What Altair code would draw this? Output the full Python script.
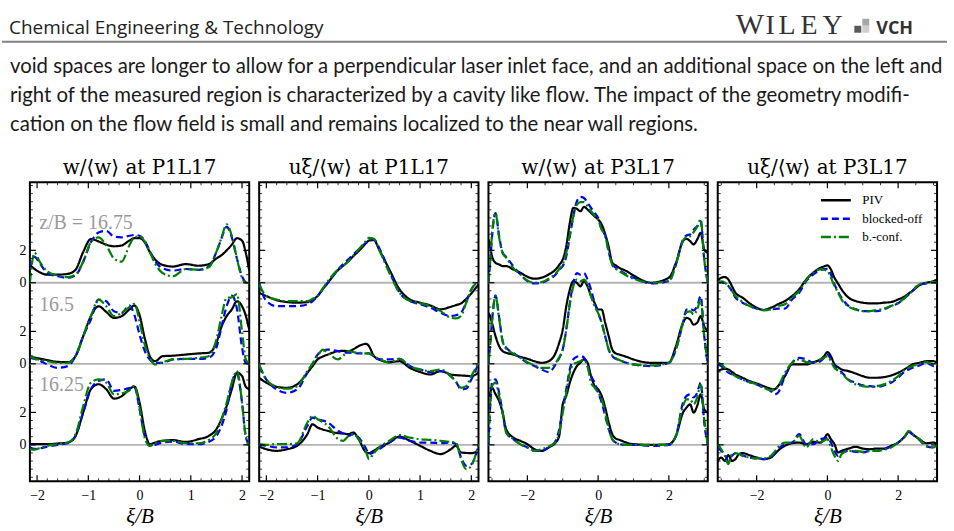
import altair as alt
import pandas as pd

SERIES = ["PIV", "blocked-off", "b.-conf."]
COLORS = ["#000000", "#0000ff", "#008000"]
DASHES = [[1, 0], [7, 4], [10, 3, 2, 3]]
STACK_OFFSETS = [10, 5, 0]
STACK_LABELS = ["z/B = 16.75", "16.5", "16.25"]
Y_MAJOR = [0, 2, 5, 7, 10, 12]

# ---------------- panel 1: w/<w> at P1L17 ----------------
X_P1 = [-2.14, -2.05, -1.95, -1.8, -1.6, -1.4, -1.25, -1.1, -0.95, -0.8, -0.65, -0.5, -0.35, -0.2, -0.1, 0.0,
        0.1, 0.2, 0.3, 0.45, 0.65, 0.9, 1.15, 1.35, 1.5, 1.6, 1.7, 1.8, 1.9, 2.0, 2.07, 2.14]
P1_TOP_PIV = [1.1, 0.85, 0.65, 0.5, 0.5, 0.55, 0.8, 1.9, 2.7, 2.55, 2.35, 2.25, 2.3, 2.6, 2.75, 2.75,
              2.5, 1.9, 1.45, 1.1, 1.0, 1.15, 1.05, 1.15, 1.5, 1.7, 2.0, 2.35, 2.75, 2.6, 1.9, 0.75]
P1_TOP_BO = [0.9, 1.6, 1.2, 0.6, 0.4, 0.3, 0.45, 1.3, 2.5, 3.1, 3.2, 2.85, 2.8, 2.9, 2.95, 2.9,
             2.6, 1.95, 1.35, 0.9, 0.75, 0.85, 0.8, 1.0, 1.9, 2.75, 3.45, 2.8, 1.5, 0.4, 0.05, 0.0]
P1_TOP_BC = [0.0, 1.85, 1.3, 0.7, 0.45, 0.35, 0.5, 1.3, 2.5, 2.8, 2.3, 1.5, 1.3, 2.3, 2.8, 2.85,
             2.55, 1.9, 1.2, 0.6, 0.4, 0.85, 0.8, 0.95, 1.9, 2.8, 3.6, 2.9, 1.5, 0.3, 0.0, 0.0]
P1_MID_PIV = [0.43, 0.38, 0.32, 0.23, 0.12, 0.1, 0.47, 1.7, 2.94, 3.55, 3.2, 2.83, 2.94, 3.35, 3.6, 3.0,
              1.6, 0.47, 0.16, 0.47, 0.5, 0.57, 0.64, 0.68, 1.3, 2.3, 2.94, 3.35, 3.86, 3.55, 3.0, 2.1]
P1_MID_BO = [0.37, 0.3, 0.2, -0.04, -0.25, -0.14, 0.47, 1.7, 2.73, 3.96, 3.86, 3.24, 3.14, 3.6, 3.0, 1.8,
             0.8, 0.27, 0.06, 0.06, 0.27, 0.3, 0.3, 0.37, 1.0, 2.3, 3.55, 4.2, 3.4, 1.0, 0.06, 0.0]
P1_MID_BC = [0.47, 0.32, 0.25, 0.16, 0.06, 0.06, 0.47, 1.7, 2.94, 3.96, 3.55, 2.94, 3.14, 3.5, 3.7, 2.6,
             1.2, 0.37, -0.04, 0.1, 0.27, 0.3, 0.37, 0.47, 1.5, 2.94, 4.07, 4.1, 4.3, 2.0, 0.3, 0.0]
P1_BOT_PIV = [0.04, 0.04, 0.04, 0.04, 0.08, 0.14, 0.55, 2.0, 3.43, 3.74, 3.43, 2.85, 3.0, 3.43, 3.6, 2.6,
              0.9, 0.04, 0.14, 0.25, 0.29, 0.18, 0.35, 0.55, 0.97, 1.6, 2.4, 3.43, 4.45, 4.25, 3.6, 3.43]
P1_BOT_BO = [-0.16, -0.25, -0.22, -0.12, 0.0, 0.1, 0.55, 2.0, 3.43, 3.94, 4.04, 3.33, 3.39, 3.5, 3.55, 2.2,
             0.55, -0.06, 0.0, 0.14, 0.2, 0.04, 0.04, 0.18, 0.55, 1.17, 2.2, 3.84, 4.4, 2.6, 0.55, 0.0]
P1_BOT_BC = [-0.27, -0.3, -0.2, -0.06, 0.04, 0.14, 0.65, 2.4, 3.84, 4.04, 3.84, 3.12, 3.18, 3.35, 3.65, 2.3,
             0.45, -0.06, 0.1, 0.25, 0.25, 0.1, 0.1, 0.3, 0.76, 1.58, 2.6, 3.84, 4.55, 2.6, 0.55, -0.06]

# ---------------- panel 2: u_xi/<w> at P1L17 ----------------
X_P2 = [-2.14, -2.0, -1.8, -1.6, -1.4, -1.2, -1.1, -1.0, -0.9, -0.8, -0.6, -0.5, -0.4, -0.3, -0.2, -0.05,
        0.0, 0.1, 0.2, 0.4, 0.6, 0.8, 1.0, 1.2, 1.4, 1.6, 1.7, 1.8, 1.9, 2.0, 2.14]
P2_TOP_PIV = [-0.62, -0.82, -1.07, -1.19, -1.23, -1.19, -1.05, -0.82, -0.4, 0.0, 0.78, 1.05, 1.33, 1.65, 1.95,
              2.45, 2.6, 2.63, 2.05, 0.82, -0.41, -1.03, -1.23, -1.4, -1.64, -1.48, -1.38, -1.27, -1.0, -0.66, -0.1]
P2_TOP_BO = [0.0, -1.13, -1.44, -1.44, -1.44, -1.33, -1.15, -0.82, -0.4, 0.0, 0.82, 1.15, 1.44, 1.75, 2.05,
             2.5, 2.63, 2.67, 2.16, 0.72, -0.62, -1.13, -1.33, -1.54, -1.85, -2.05, -2.0, -1.85, -1.2, -0.41, 0.0]
P2_TOP_BC = [-0.1, -0.82, -1.03, -1.13, -1.13, -1.13, -1.0, -0.82, -0.35, 0.1, 0.82, 1.05, 1.33, 1.7, 2.05,
             2.6, 2.77, 2.71, 2.05, 0.62, -0.62, -1.13, -1.27, -1.44, -1.75, -2.16, -2.2, -2.05, -1.23, -0.41, 0.04]
P2_MID_PIV = [-0.86, -1.17, -1.42, -1.48, -1.27, -0.55, -0.15, 0.27, 0.45, 0.57, 0.78, 0.8, 0.78, 0.9, 1.09,
              1.23, 1.1, 0.47, 0.27, 0.1, 0.16, -0.25, -0.51, -0.66, -0.45, -0.66, -0.7, -0.72, -0.74, -0.76, -0.55]
P2_MID_BO = [-0.14, -0.97, -1.58, -1.79, -1.58, -0.55, 0.0, 0.57, 0.8, 0.88, 0.78, 0.72, 0.68, 0.66, 0.64,
             0.64, 0.64, 0.45, 0.27, 0.27, 0.31, -0.14, -0.35, -0.51, -0.45, -0.76, -1.1, -1.58, -1.54, -0.97, 0.0]
P2_MID_BC = [-0.04, -0.97, -1.42, -1.54, -1.38, -0.45, 0.0, 0.47, 0.88, 0.68, 0.27, 0.5, 0.78, 0.72, 0.68,
             0.64, 0.64, 0.45, 0.31, 0.06, 0.31, -0.14, -0.35, -0.45, -0.35, -0.76, -1.1, -1.48, -1.38, -0.76, 0.06]
P2_BOT_PIV = [-0.1, -0.27, -0.37, -0.27, -0.06, 0.66, 1.27, 1.07, 0.95, 0.86, 0.72, 0.7, 0.66, 0.76, 0.35,
              -0.47, -0.51, -0.35, -0.16, 0.14, 0.51, 0.25, -0.06, -0.37, -0.57, -0.27, -0.06, -0.47, -0.5, -0.51, -0.37]
P2_BOT_BO = [0.0, -0.06, -0.16, -0.16, 0.04, 1.17, 1.68, 1.58, 1.5, 1.38, 0.86, 0.7, 0.55, 0.66, 0.45,
             -0.27, -0.57, -0.45, -0.27, 0.14, 0.45, 0.25, 0.14, 0.14, 0.1, 0.14, 0.04, -0.78, -1.29, -1.19, -0.06]
P2_BOT_BC = [0.04, 0.0, 0.04, 0.04, 0.1, 1.38, 1.79, 1.58, 1.4, 1.17, 0.35, 0.25, 0.55, 0.66, 0.35,
             -0.47, -0.88, -0.5, -0.16, 0.25, 0.6, 0.45, 0.35, 0.31, 0.25, 0.18, 0.14, -0.88, -1.5, -1.29, 0.04]

# ---------------- panel 3: w/<w> at P3L17 ----------------
X_P3 = [-3.1, -3.05, -3.0, -2.9, -2.8, -2.7, -2.6, -2.4, -2.2, -2.0,
        -1.8, -1.6, -1.4, -1.2, -1.1, -1.0, -0.9, -0.8, -0.7, -0.6,
        -0.5, -0.4, -0.3, -0.2, -0.1, 0.0, 0.1, 0.2, 0.3, 0.4,
        0.5, 0.6, 0.8, 1.0, 1.5, 2.0, 2.2, 2.4, 2.5, 2.6,
        2.7, 2.8, 2.9, 3.0, 3.1]
P3_TOP_PIV = [2.67, 2.2, 1.64, 1.23, 1.13, 1.03, 1.03, 0.82, 0.62, 0.37,
              0.25, 0.31, 0.51, 0.82, 1.1, 1.44, 2.26, 3.7, 4.62, 4.56,
              4.41, 4.68, 4.52, 4.31, 4.1, 3.9, 3.6, 3.0, 2.2, 1.23,
              1.07, 0.92, 0.72, 0.45, 0.0, 0.31, 1.23, 2.57, 2.71, 2.57,
              2.36, 2.67, 3.08, 2.05, 1.85]
P3_TOP_BO = [0.0, 1.3, 2.8, 4.3, 2.9, 1.85, 1.6, 1.03, 0.51, 0.1,
             -0.04, 0.0, 0.2, 0.51, 0.8, 1.03, 1.64, 2.87, 4.1, 5.03,
             5.3, 5.23, 4.93, 4.62, 4.31, 4.0, 3.28, 2.9, 1.9, 1.15,
             0.92, 0.78, 0.51, 0.31, -0.04, 0.1, 1.13, 2.67, 2.92, 2.98,
             3.28, 3.49, 3.8, 1.44, 0.0]
P3_TOP_BC = [0.0, 1.4, 3.0, 4.3, 2.8, 1.85, 1.55, 0.92, 0.51, 0.14,
             0.0, 0.04, 0.25, 0.57, 0.85, 1.13, 1.85, 2.98, 4.1, 4.83,
             4.97, 4.97, 4.72, 4.41, 4.15, 3.9, 3.28, 2.9, 1.9, 1.1,
             0.86, 0.72, 0.45, 0.25, 0.0, 0.1, 1.13, 2.57, 2.83, 2.87,
             3.12, 3.45, 3.9, 1.44, 0.0]
P3_MID_PIV = [3.14, 2.9, 2.53, 1.7, 1.09, 0.78, 0.68, 0.57, 0.43, 0.31,
              0.16, 0.06, 0.16, 0.68, 1.3, 2.11, 3.55, 4.58, 5.1, 4.99,
              4.78, 5.1, 4.78, 4.17, 3.76, 3.35, 3.35, 2.53, 1.7, 0.88,
              0.64, 0.57, 0.43, 0.27, 0.06, 0.06, 1.09, 2.53, 2.83, 2.73,
              2.42, 2.53, 2.94, 2.32, 2.01]
P3_MID_BO = [0.0, 1.2, 2.6, 4.2, 2.9, 1.4, 1.0, 0.68, 0.37, 0.06,
             -0.14, -0.35, -0.51, -0.04, 0.35, 0.88, 2.11, 3.76, 4.99, 5.6,
             5.5, 5.6, 5.2, 4.58, 3.76, 3.14, 2.53, 1.7, 0.88, 0.47,
             0.31, 0.23, 0.06, -0.04, -0.14, 0.06, 0.88, 2.53, 3.35, 3.39,
             3.3, 3.55, 4.17, 1.7, 0.0]
P3_MID_BC = [0.06, 1.2, 2.6, 4.2, 2.8, 1.4, 0.92, 0.64, 0.37, 0.1,
             -0.1, -0.25, -0.25, 0.06, 0.4, 0.88, 2.11, 3.65, 4.78, 5.2,
             5.1, 5.2, 4.89, 4.17, 3.55, 3.14, 2.53, 1.7, 0.88, 0.51,
             0.35, 0.23, 0.06, -0.04, -0.1, 0.06, 0.88, 2.53, 3.18, 3.24,
             3.04, 3.35, 3.96, 1.7, 0.0]
P3_BOT_PIV = [3.02, 3.22, 3.53, 3.12, 2.71, 1.99, 0.97, 0.45, 0.25, 0.04,
              -0.27, -0.37, -0.16, 0.14, 0.55, 2.5, 3.02, 3.84, 4.45, 4.86,
              5.07, 5.28, 5.07, 4.25, 3.63, 3.43, 3.02, 2.3, 1.38, 0.66,
              0.39, 0.31, 0.14, 0.04, 0.0, 0.04, 0.55, 1.99, 2.3, 2.5,
              1.99, 2.4, 3.12, 2.2, 1.99]
P3_BOT_BO = [0.0, 2.4, 3.84, 4.04, 3.22, 1.99, 0.76, 0.35, 0.04, -0.16,
             -0.37, -0.37, -0.16, 0.25, 0.97, 2.2, 3.43, 4.66, 5.28, 5.44,
             5.48, 5.38, 4.86, 4.25, 3.84, 3.22, 2.61, 1.79, 0.97, 0.35,
             0.14, 0.04, 0.0, 0.0, -0.06, 0.0, 0.55, 2.61, 3.02, 3.12,
             2.92, 3.22, 3.84, 1.38, 0.0]
P3_BOT_BC = [0.14, 2.61, 3.63, 3.84, 3.02, 1.99, 0.76, 0.35, 0.04, -0.16,
             -0.37, -0.27, -0.1, 0.18, 0.76, 1.99, 3.22, 4.45, 4.97, 5.07,
             5.17, 5.23, 4.86, 3.84, 3.53, 3.22, 2.81, 1.99, 0.97, 0.35,
             0.14, 0.04, 0.0, 0.0, 0.0, 0.0, 0.55, 2.4, 2.81, 2.81,
             2.5, 2.92, 3.74, 1.58, 0.0]

# ---------------- panel 4: u_xi/<w> at P3L17 ----------------
X_P4 = [-3.1, -3.0, -2.9, -2.8, -2.7, -2.6, -2.5, -2.4, -2.2, -2.0,
        -1.8, -1.6, -1.5, -1.4, -1.2, -1.0, -0.8, -0.6, -0.4, -0.2,
        -0.1, 0.0, 0.1, 0.2, 0.3, 0.4, 0.6, 0.8, 1.0, 1.2,
        1.4, 1.6, 1.8, 2.0, 2.2, 2.3, 2.4, 2.6, 2.8, 3.0,
        3.1]
P4_TOP_PIV = [0.1, 0.31, 0.35, 0.2, -0.2, -0.62, -0.8, -0.92, -1.27, -1.54,
              -1.68, -1.54, -1.45, -1.33, -1.13, -0.82, -0.41, 0.2, 0.62, 0.92,
              1.0, 1.07, 0.82, 0.31, -0.05, -0.41, -0.92, -1.13, -1.23, -1.27,
              -1.27, -1.23, -1.19, -1.03, -0.82, -0.66, -0.51, -0.16, 0.0, 0.1,
              0.2]
P4_TOP_BO = [0.0, 0.04, -0.05, -0.2, -0.5, -0.92, -1.1, -1.23, -1.44, -1.6,
             -1.68, -1.64, -1.62, -1.6, -1.6, -1.03, -0.62, 0.1, 0.51, 0.78,
             0.84, 0.86, 0.51, -0.1, -0.55, -0.92, -1.44, -1.64, -1.75, -1.75,
             -1.75, -1.64, -1.44, -1.27, -0.92, -0.72, -0.51, -0.1, -0.04, 0.04,
             0.0]
P4_TOP_BC = [0.04, 0.08, 0.0, -0.2, -0.5, -0.82, -1.0, -1.19, -1.44, -1.6,
             -1.7, -1.64, -1.55, -1.44, -1.33, -0.92, -0.51, 0.16, 0.62, 0.82,
             0.8, 0.72, 0.31, -0.2, -0.6, -1.03, -1.48, -1.64, -1.75, -1.75,
             -1.68, -1.6, -1.44, -1.23, -0.92, -0.72, -0.51, -0.1, 0.0, 0.04,
             -0.04]
P4_MID_PIV = [-0.45, -0.35, -0.31, -0.35, -0.5, -0.66, -0.76, -0.86, -1.07, -1.21,
              -1.38, -1.54, -1.58, -1.38, -0.76, -0.04, -0.04, -0.04, 0.1, 0.27,
              0.45, 0.72, 0.47, -0.04, -0.2, -0.35, -0.45, -0.6, -0.76, -0.86,
              -0.86, -0.82, -0.72, -0.55, -0.31, -0.18, -0.04, 0.06, 0.16, 0.16,
              0.06]
P4_MID_BO = [-0.04, -0.14, -0.35, -0.55, -0.65, -0.76, -0.86, -0.97, -1.13, -1.27,
             -1.48, -1.68, -1.89, -1.79, -0.76, 0.06, 0.37, 0.27, 0.06, 0.16,
             0.35, 0.57, 0.27, -0.14, -0.33, -0.51, -0.97, -1.17, -1.33, -1.38,
             -1.42, -1.33, -1.17, -0.86, -0.45, -0.35, -0.25, -0.1, 0.06, -0.14,
             -0.04]
P4_MID_BC = [0.06, -0.04, -0.25, -0.45, -0.6, -0.76, -0.86, -0.97, -1.13, -1.27,
             -1.48, -1.62, -1.62, -1.42, -0.55, 0.06, 0.27, 0.1, 0.06, 0.27,
             0.37, 0.47, 0.16, -0.25, -0.42, -0.6, -1.01, -1.27, -1.38, -1.42,
             -1.38, -1.27, -1.07, -0.76, -0.35, -0.25, -0.14, 0.0, 0.1, -0.04,
             -0.1]
P4_BOT_PIV = [-0.99, -0.78, -0.99, -0.64, -0.99, -0.88, -0.57, -0.51, -0.64, -0.78,
              -0.88, -0.78, -0.6, -0.37, -0.06, 0.1, 0.14, 0.04, 0.18, 0.14,
              0.35, 0.66, 0.35, 0.04, -0.47, -0.37, -0.23, -0.12, -0.23, -0.27,
              -0.23, -0.23, -0.06, 0.14, 0.55, 0.8, 0.66, 0.35, 0.1, 0.14,
              0.04]
P4_BOT_BO = [-0.16, -0.37, -0.57, -0.99, -0.68, -0.51, -0.51, -0.64, -0.78, -0.84,
             -0.88, -0.78, -0.55, -0.27, 0.04, 0.14, 0.66, 0.04, 0.04, 0.35,
             0.4, 0.45, 0.14, -0.37, -0.68, -0.47, -0.37, -0.43, -0.47, -0.37,
             -0.37, -0.27, -0.1, 0.14, 0.55, 0.86, 0.66, 0.31, -0.1, -0.16,
             0.04]
P4_BOT_BC = [0.04, -0.27, -0.68, -1.19, -0.57, -0.51, -0.57, -0.68, -0.78, -0.84,
             -0.84, -0.68, -0.45, -0.16, 0.14, 0.14, 0.55, -0.16, 0.35, 0.14,
             0.25, 0.35, -0.16, -0.68, -0.99, -0.57, -0.37, -0.37, -0.43, -0.37,
             -0.37, -0.31, -0.16, 0.14, 0.55, 0.86, 0.66, 0.35, -0.06, -0.16,
             0.0]

PANELS = [
    dict(title="w/⟨w⟩ at P1L17", x=X_P1, domain=[-2.14, 2.14], major=[-2, -1, 0, 1, 2], minor=0.2,
         curves=[[P1_TOP_PIV, P1_TOP_BO, P1_TOP_BC], [P1_MID_PIV, P1_MID_BO, P1_MID_BC],
                 [P1_BOT_PIV, P1_BOT_BO, P1_BOT_BC]]),
    dict(title="uξ/⟨w⟩ at P1L17", x=X_P2, domain=[-2.14, 2.14], major=[-2, -1, 0, 1, 2], minor=0.2,
         curves=[[P2_TOP_PIV, P2_TOP_BO, P2_TOP_BC], [P2_MID_PIV, P2_MID_BO, P2_MID_BC],
                 [P2_BOT_PIV, P2_BOT_BO, P2_BOT_BC]]),
    dict(title="w/⟨w⟩ at P3L17", x=X_P3, domain=[-3.1, 3.1], major=[-2, 0, 2], minor=0.5,
         curves=[[P3_TOP_PIV, P3_TOP_BO, P3_TOP_BC], [P3_MID_PIV, P3_MID_BO, P3_MID_BC],
                 [P3_BOT_PIV, P3_BOT_BO, P3_BOT_BC]]),
    dict(title="uξ/⟨w⟩ at P3L17", x=X_P4, domain=[-3.1, 3.1], major=[-2, 0, 2], minor=0.5,
         curves=[[P4_TOP_PIV, P4_TOP_BO, P4_TOP_BC], [P4_MID_PIV, P4_MID_BO, P4_MID_BC],
                 [P4_BOT_PIV, P4_BOT_BO, P4_BOT_BC]]),
]

SERIF = "Liberation Serif"
TITLE_FONT = "DejaVu Serif"
W, H = 220, 300
Y_DOMAIN = [-2.25, 16.2]
LEFT = 28  # y-axis extent of the first panel; the page content is shifted by it

LEGEND = alt.Legend(orient="none", legendX=820 - LEFT, legendY=191, title=None, symbolType="stroke",
                    symbolSize=900, symbolStrokeWidth=2.5, labelFont=SERIF, labelFontSize=13,
                    labelOffset=10, clipHeight=16, rowPadding=2.5, padding=0, labelColor="black")


def frange(a, b, step):
    out, k = [], 0
    while a + k * step <= b + 1e-9:
        out.append(round(a + k * step, 4))
        k += 1
    return out


def make_panel(i, p):
    rows = []
    for si, stack in enumerate(p["curves"]):
        for k, name in enumerate(SERIES):
            for xv, yv in zip(p["x"], stack[k]):
                rows.append({"x": xv, "y": yv + STACK_OFFSETS[si], "series": name, "stack": si})
    df = pd.DataFrame(rows)

    x_axis = alt.Axis(values=p["major"], format="d", labelFont=SERIF, labelFontSize=14, ticks=False,
                      domain=False, grid=False, labelPadding=7, labelFlush=False, labelOverlap=False,
                      labelColor="black", title="ξ/B", titleFont=SERIF, titleFontSize=21,
                      titleFontStyle="italic", titleFontWeight="normal", titlePadding=3, titleColor="black")
    if i == 0:
        y_axis = alt.Axis(values=Y_MAJOR, labelExpr="format(datum.value % 5, 'd')", labelFont=SERIF,
                          labelFontSize=14, ticks=False, domain=False, grid=False, labelPadding=4,
                          labelColor="black", title=None, minExtent=LEFT, maxExtent=LEFT)
    else:
        y_axis = None
    xs = alt.Scale(domain=p["domain"], nice=False, zero=False)
    ys = alt.Scale(domain=Y_DOMAIN, nice=False, zero=False)
    X = lambda: alt.X("x:Q", scale=xs, axis=x_axis)
    Y = lambda: alt.Y("y:Q", scale=ys, axis=y_axis)

    zero = alt.Chart(pd.DataFrame({"y": STACK_OFFSETS})).mark_rule(
        color="#b4b4b4", strokeWidth=1.8).encode(y=Y())

    lines = alt.Chart(df).mark_line(strokeWidth=2.2, interpolate="monotone", clip=True).encode(
        x=X(), y=Y(),
        color=alt.Color("series:N", scale=alt.Scale(domain=SERIES, range=COLORS), legend=LEGEND),
        strokeDash=alt.StrokeDash("series:N", scale=alt.Scale(domain=SERIES, range=DASHES), legend=LEGEND),
        detail="stack:N",
    )

    y_major = alt.Chart(pd.DataFrame({"y": Y_MAJOR})).mark_rule(color="black", strokeWidth=1.2)
    y_minor = alt.Chart(pd.DataFrame({"y": [v for v in frange(-2.0, 16.0, 0.5) if v not in Y_MAJOR]})
                        ).mark_rule(color="black", strokeWidth=0.8)
    x_major = alt.Chart(pd.DataFrame({"x": p["major"]})).mark_rule(color="black", strokeWidth=1.2)
    x_minor = alt.Chart(pd.DataFrame({"x": [v for v in frange(-3.0, 3.0, p["minor"])
                                            if abs(v) <= p["domain"][1] - 0.02 and v not in p["major"]]})
                        ).mark_rule(color="black", strokeWidth=0.8)
    ticks = [
        y_major.encode(y=Y(), x=alt.value(0), x2=alt.value(6)),
        y_major.encode(y=Y(), x=alt.value(W), x2=alt.value(W - 6)),
        y_minor.encode(y=Y(), x=alt.value(0), x2=alt.value(3)),
        y_minor.encode(y=Y(), x=alt.value(W), x2=alt.value(W - 3)),
        x_major.encode(x=X(), y=alt.value(H), y2=alt.value(H - 6)),
        x_major.encode(x=X(), y=alt.value(0), y2=alt.value(6)),
        x_minor.encode(x=X(), y=alt.value(H), y2=alt.value(H - 3)),
        x_minor.encode(x=X(), y=alt.value(0), y2=alt.value(3)),
    ]
    layers = [zero, lines] + ticks
    if i == 0:
        ann = pd.DataFrame({"x": [-1.96, -1.96, -1.96], "y": [13.7, 8.65, 3.7], "label": STACK_LABELS})
        layers.append(alt.Chart(ann).mark_text(align="left", baseline="middle", font=SERIF, fontSize=20,
                                               color="#9a9a9a").encode(x=X(), y=Y(), text="label:N"))
    return alt.layer(*layers).properties(
        width=W, height=H,
        title=alt.TitleParams(p["title"], font=TITLE_FONT, fontSize=20, fontWeight="normal", offset=4,
                              anchor="middle", color="black"),
        view=alt.ViewBackground(stroke="black", strokeWidth=2),
    )


def txt(s, x, y, **kw):
    # header positions are given in page pixels; the header group starts LEFT px to the right
    return alt.Chart(pd.DataFrame({"t": [s]})).mark_text(align="left", baseline="alphabetic", **kw).encode(
        x=alt.value(x - LEFT), y=alt.value(y), text="t:N")


def box(x1, x2, y1, y2, color):
    return alt.Chart(pd.DataFrame({"a": [0]})).mark_rect(color=color).encode(
        x=alt.value(x1 - LEFT), x2=alt.value(x2 - LEFT), y=alt.value(y1), y2=alt.value(y2))


PARA = [
    "void spaces are longer to allow for a perpendicular laser inlet face, and an additional space on the left and",
    "right of the measured region is characterized by a cavity like flow. The impact of the geometry modifi-",
    "cation on the flow field is small and remains localized to the near wall regions.",
]
LOGO = [("I", 766), ("L", 779), ("E", 801), ("Y", 823)]

header_layers = [
    txt("Chemical Engineering & Technology", 7, 32, font="Open Sans", fontSize=19, color="#222222"),
    txt("W", 736, 32, font=SERIF, fontSize=30, color="#333333"),
    txt("VCH", 877, 32, font="Open Sans", fontSize=18, fontWeight="bold", color="#333333"),
    box(855, 862, 24, 31, "#5a5a5a"),
    box(863, 870, 17, 24, "#a8a8a8"),
    box(863, 870, 24, 31, "#cfcfcf"),
    alt.Chart(pd.DataFrame({"a": [0]})).mark_rule(color="#808080", strokeWidth=2).encode(
        x=alt.value(0 - LEFT), x2=alt.value(948 - LEFT), y=alt.value(40)),
]
for ch, xx in LOGO:
    header_layers.append(txt(ch, xx, 32, font=SERIF, fontSize=28, color="#333333"))
for k, line in enumerate(PARA):
    header_layers.append(txt(line, 8, 71 + 29.5 * k, font="Lato", fontSize=20.4, color="#1a1a1a"))

header = alt.layer(*header_layers).properties(width=954 - LEFT, height=154,
                                               view=alt.ViewBackground(stroke="transparent"))

row = alt.hconcat(*[make_panel(i, p) for i, p in enumerate(PANELS)], spacing=6)
chart = alt.vconcat(header, row, spacing=0, padding={"left": 0, "top": 0, "right": 0, "bottom": 0},
                    background="white")

chart.save("out.html", embed_options={"renderer": "svg", "actions": False})
